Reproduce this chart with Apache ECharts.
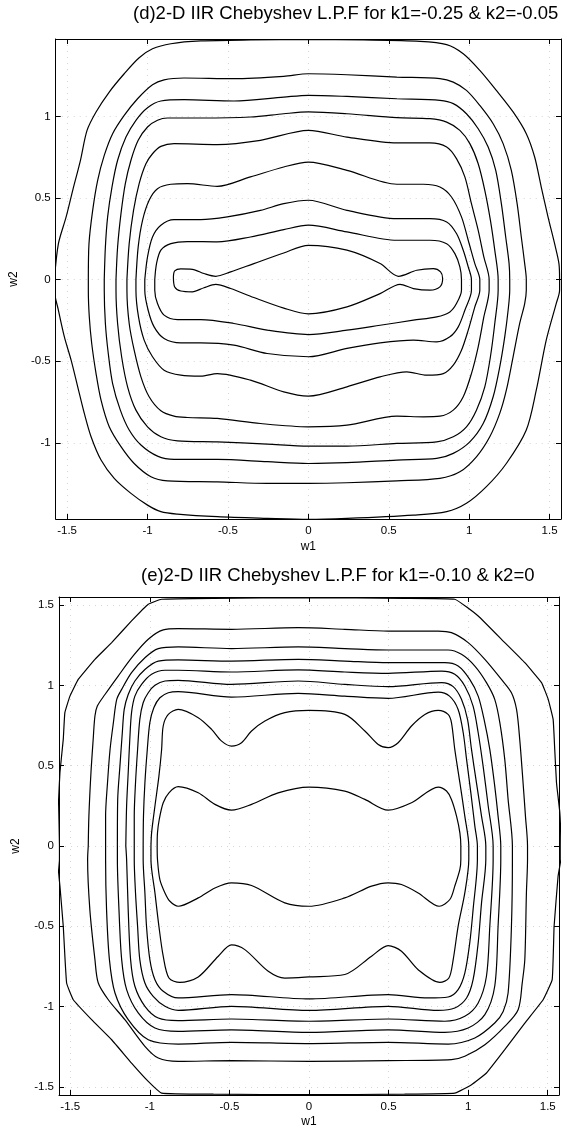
<!DOCTYPE html>
<html>
<head>
<meta charset="utf-8">
<script src="https://cdn.jsdelivr.net/npm/echarts@6/dist/echarts.min.js"></script>
<style>
html,body{margin:0;padding:0;background:#fff}
#chart{width:567px;height:1135px}
</style>
</head>
<body>
<div id="chart"></div>
<script>
// Tick labels
const xTicks = [-1.5, -1, -0.5, 0, 0.5, 1, 1.5];
const yTicksD = [-1, -0.5, 0, 0.5, 1];
const yTicksE = [-1.5, -1, -0.5, 0, 0.5, 1, 1.5];
const titleD = '(d)2-D IIR Chebyshev L.P.F for k1=-0.25 & k2=-0.05';
const titleE = '(e)2-D IIR Chebyshev L.P.F for k1=-0.10 & k2=0';

// Panel (d): contour lines as [w1, w2] loops, outermost first
const dC1 = [[-1.579,0],[-1.554,0.22],[-1.506,0.384],[-1.465,0.547],[-1.417,0.731],[-1.376,0.914],[-1.32,1.027],[-1.238,1.149],[-1.145,1.261],[-1.052,1.359],[-0.969,1.414],[-0.855,1.445],[-0.669,1.462],[-0.36,1.468],[0,1.47],[0.343,1.468],[0.694,1.46],[0.86,1.44],[0.963,1.384],[1.066,1.282],[1.169,1.159],[1.273,1.027],[1.355,0.894],[1.407,0.751],[1.448,0.567],[1.49,0.384],[1.531,0.22],[1.558,0.098],[1.562,0],[1.562,-0.065],[1.541,-0.147],[1.479,-0.371],[1.417,-0.678],[1.355,-0.922],[1.231,-1.127],[1.107,-1.269],[0.983,-1.371],[0.86,-1.422],[0.653,-1.443],[0.24,-1.463],[0,-1.469],[-0.256,-1.463],[-0.566,-1.453],[-0.814,-1.437],[-0.917,-1.422],[-1.0,-1.382],[-1.103,-1.31],[-1.207,-1.218],[-1.289,-1.106],[-1.351,-0.963],[-1.393,-0.82],[-1.434,-0.657],[-1.475,-0.494],[-1.517,-0.351],[-1.554,-0.188],[-1.579,-0.065]];
const dC2 = [[-1.368,0],[-1.364,0.22],[-1.341,0.424],[-1.31,0.608],[-1.269,0.761],[-1.217,0.894],[-1.145,1.006],[-1.062,1.108],[-0.969,1.194],[-0.897,1.224],[-0.773,1.235],[-0.463,1.231],[-0.153,1.245],[0,1.261],[0.24,1.255],[0.55,1.241],[0.818,1.231],[0.901,1.21],[0.983,1.159],[1.066,1.067],[1.149,0.955],[1.211,0.833],[1.262,0.669],[1.298,0.465],[1.324,0.261],[1.345,0.098],[1.355,0],[1.355,-0.065],[1.345,-0.147],[1.314,-0.269],[1.273,-0.473],[1.231,-0.678],[1.19,-0.82],[1.128,-0.963],[1.045,-1.086],[0.942,-1.178],[0.818,-1.218],[0.55,-1.233],[0.24,-1.245],[0,-1.249],[-0.256,-1.249],[-0.566,-1.239],[-0.876,-1.233],[-0.979,-1.208],[-1.083,-1.127],[-1.165,-1.024],[-1.238,-0.902],[-1.289,-0.739],[-1.32,-0.576],[-1.347,-0.392],[-1.362,-0.229],[-1.368,-0.065]];
const dC3 = [[-1.269,0],[-1.262,0.2],[-1.248,0.384],[-1.221,0.567],[-1.186,0.731],[-1.134,0.873],[-1.072,0.976],[-1.0,1.053],[-0.917,1.094],[-0.773,1.102],[-0.463,1.094],[-0.153,1.118],[0,1.129],[0.24,1.122],[0.55,1.108],[0.818,1.098],[0.901,1.078],[0.983,1.016],[1.056,0.924],[1.118,0.812],[1.165,0.669],[1.2,0.465],[1.227,0.261],[1.248,0.098],[1.252,0],[1.252,-0.065],[1.242,-0.188],[1.221,-0.351],[1.19,-0.535],[1.149,-0.718],[1.087,-0.882],[1.004,-0.994],[0.901,-1.065],[0.798,-1.096],[0.55,-1.106],[0.24,-1.122],[0,-1.127],[-0.256,-1.116],[-0.566,-1.102],[-0.835,-1.102],[-0.938,-1.082],[-1.041,-1.014],[-1.114,-0.922],[-1.169,-0.8],[-1.217,-0.637],[-1.244,-0.453],[-1.262,-0.269],[-1.269,-0.065]];
const dC4 = [[-1.196,0],[-1.186,0.2],[-1.165,0.404],[-1.138,0.588],[-1.103,0.731],[-1.058,0.853],[-1.0,0.935],[-0.938,0.976],[-0.876,0.99],[-0.669,0.99],[-0.36,0.996],[-0.153,1.016],[0,1.027],[0.24,1.016],[0.55,0.992],[0.756,0.986],[0.86,0.965],[0.942,0.914],[1.004,0.833],[1.056,0.71],[1.097,0.547],[1.132,0.363],[1.159,0.18],[1.18,0],[1.18,-0.065],[1.159,-0.269],[1.132,-0.473],[1.097,-0.657],[1.045,-0.8],[0.983,-0.902],[0.901,-0.963],[0.798,-0.994],[0.55,-1.004],[0.24,-1.02],[0,-1.02],[-0.256,-1.008],[-0.566,-0.994],[-0.814,-0.988],[-0.917,-0.963],[-1.0,-0.902],[-1.072,-0.8],[-1.124,-0.657],[-1.161,-0.473],[-1.186,-0.269],[-1.196,-0.065]];
const dC5 = [[-1.128,0],[-1.114,0.22],[-1.087,0.424],[-1.052,0.588],[-1.01,0.71],[-0.969,0.771],[-0.917,0.816],[-0.835,0.833],[-0.566,0.827],[-0.298,0.853],[0,0.914],[0.24,0.873],[0.55,0.837],[0.756,0.837],[0.86,0.812],[0.921,0.741],[0.973,0.629],[1.014,0.465],[1.056,0.302],[1.091,0.139],[1.124,0],[1.124,-0.065],[1.091,-0.229],[1.056,-0.412],[1.014,-0.576],[0.963,-0.718],[0.901,-0.8],[0.818,-0.837],[0.715,-0.841],[0.55,-0.837],[0.24,-0.892],[0,-0.902],[-0.298,-0.882],[-0.566,-0.851],[-0.752,-0.845],[-0.835,-0.837],[-0.917,-0.804],[-0.99,-0.718],[-1.041,-0.596],[-1.083,-0.433],[-1.114,-0.269],[-1.128,-0.065]];
const dC6 = [[-1.072,0],[-1.058,0.2],[-1.031,0.363],[-0.99,0.486],[-0.938,0.557],[-0.855,0.584],[-0.752,0.588],[-0.566,0.571],[-0.36,0.629],[-0.153,0.69],[0,0.72],[0.24,0.669],[0.55,0.584],[0.715,0.584],[0.818,0.567],[0.89,0.506],[0.952,0.384],[0.994,0.241],[1.035,0.098],[1.066,0],[1.066,-0.065],[1.035,-0.167],[0.994,-0.31],[0.952,-0.433],[0.901,-0.524],[0.839,-0.576],[0.736,-0.586],[0.612,-0.565],[0.446,-0.596],[0.24,-0.657],[0,-0.714],[-0.153,-0.688],[-0.36,-0.616],[-0.566,-0.576],[-0.669,-0.592],[-0.793,-0.586],[-0.897,-0.555],[-0.969,-0.473],[-1.021,-0.371],[-1.056,-0.229],[-1.072,-0.065]];
const dC7 = [[-1.017,0],[-1.0,0.139],[-0.969,0.261],[-0.917,0.333],[-0.835,0.367],[-0.669,0.367],[-0.504,0.384],[-0.298,0.424],[-0.153,0.465],[0,0.486],[0.24,0.424],[0.55,0.373],[0.756,0.373],[0.86,0.353],[0.921,0.282],[0.963,0.18],[0.994,0.078],[1.014,0],[1.014,-0.065],[0.973,-0.188],[0.932,-0.29],[0.88,-0.351],[0.798,-0.382],[0.653,-0.371],[0.446,-0.388],[0.24,-0.422],[0,-0.473],[-0.256,-0.453],[-0.463,-0.402],[-0.669,-0.388],[-0.793,-0.388],[-0.897,-0.361],[-0.959,-0.29],[-0.996,-0.188],[-1.017,-0.065]];
const dC8 = [[-0.955,0],[-0.944,0.098],[-0.917,0.18],[-0.855,0.22],[-0.752,0.233],[-0.566,0.231],[-0.36,0.261],[-0.153,0.306],[0,0.333],[0.24,0.292],[0.55,0.241],[0.756,0.241],[0.86,0.22],[0.911,0.159],[0.942,0.078],[0.952,0],[0.952,-0.065],[0.921,-0.147],[0.88,-0.198],[0.798,-0.229],[0.653,-0.249],[0.446,-0.28],[0.24,-0.31],[0,-0.337],[-0.256,-0.31],[-0.463,-0.269],[-0.669,-0.245],[-0.814,-0.245],[-0.897,-0.218],[-0.938,-0.147],[-0.955,-0.065]];
const dC9 = [[-0.839,0.016],[-0.831,0.053],[-0.793,0.065],[-0.721,0.063],[-0.649,0.037],[-0.576,0.02],[-0.483,0.047],[-0.339,0.098],[-0.153,0.163],[0,0.21],[0.24,0.18],[0.446,0.098],[0.56,0.02],[0.674,0.057],[0.777,0.067],[0.822,0.047],[0.835,0.006],[0.818,-0.045],[0.756,-0.065],[0.653,-0.055],[0.57,-0.029],[0.446,-0.086],[0.24,-0.167],[0,-0.21],[-0.153,-0.175],[-0.339,-0.11],[-0.483,-0.055],[-0.576,-0.03],[-0.649,-0.05],[-0.721,-0.075],[-0.793,-0.07],[-0.831,-0.045]];

// Panel (e): contour lines as [w1, w2] loops, outermost first
const eC1 = [[-1.58,0],[-1.575,0.249],[-1.565,0.456],[-1.544,0.664],[-1.534,0.83],[-1.502,0.933],[-1.45,1.037],[-1.345,1.162],[-1.24,1.266],[-1.115,1.401],[-1.01,1.505],[-0.926,1.536],[-0.6,1.542],[0,1.545],[0.6,1.542],[0.916,1.536],[1.063,1.432],[1.23,1.266],[1.356,1.141],[1.461,1.017],[1.503,0.913],[1.534,0.788],[1.544,0.601],[1.555,0.394],[1.576,0.207],[1.582,0],[1.582,-0.084],[1.565,-0.188],[1.54,-0.5],[1.528,-0.832],[1.471,-0.957],[1.356,-1.102],[1.23,-1.268],[1.115,-1.413],[1.021,-1.486],[0.916,-1.538],[0.6,-1.545],[0,-1.548],[-0.6,-1.545],[-0.926,-1.538],[-1.01,-1.465],[-1.115,-1.351],[-1.24,-1.206],[-1.366,-1.081],[-1.481,-0.957],[-1.523,-0.853],[-1.544,-0.5],[-1.565,-0.25],[-1.58,-0.084]];
const eC2 = [[-1.387,0],[-1.383,0.186],[-1.37,0.456],[-1.356,0.664],[-1.345,0.809],[-1.33,0.871],[-1.282,0.943],[-1.199,1.058],[-1.105,1.183],[-1.01,1.287],[-0.916,1.345],[-0.822,1.353],[-0.487,1.349],[-0.068,1.359],[0.225,1.349],[0.497,1.338],[0.812,1.338],[0.895,1.328],[1.0,1.266],[1.105,1.162],[1.209,1.037],[1.272,0.954],[1.304,0.85],[1.324,0.664],[1.345,0.394],[1.36,0.186],[1.373,0],[1.373,-0.084],[1.366,-0.292],[1.356,-0.707],[1.34,-0.85],[1.314,-1.019],[1.23,-1.123],[1.105,-1.237],[0.979,-1.309],[0.895,-1.33],[0.497,-1.336],[0,-1.341],[-0.487,-1.336],[-0.822,-1.341],[-0.947,-1.32],[-1.031,-1.247],[-1.157,-1.081],[-1.261,-0.957],[-1.324,-0.853],[-1.345,-0.707],[-1.377,-0.396],[-1.391,-0.084]];
const eC3 = [[-1.278,0],[-1.278,0.186],[-1.266,0.394],[-1.25,0.601],[-1.229,0.768],[-1.208,0.913],[-1.177,0.975],[-1.115,1.079],[-1.031,1.172],[-0.947,1.229],[-0.822,1.239],[-0.487,1.229],[-0.068,1.239],[0.225,1.229],[0.497,1.22],[0.874,1.22],[0.958,1.193],[1.042,1.12],[1.115,1.017],[1.167,0.913],[1.199,0.768],[1.23,0.539],[1.251,0.29],[1.278,0],[1.278,-0.084],[1.272,-0.5],[1.251,-0.915],[1.22,-1.03],[1.167,-1.102],[1.042,-1.195],[0.874,-1.233],[0.497,-1.222],[0,-1.23],[-0.487,-1.222],[-0.822,-1.233],[-1.01,-1.206],[-1.136,-1.081],[-1.219,-0.915],[-1.254,-0.707],[-1.272,-0.396],[-1.278,-0.084]];
const eC4 = [[-1.204,0],[-1.202,0.29],[-1.188,0.497],[-1.173,0.705],[-1.161,0.85],[-1.136,0.943],[-1.094,1.027],[-1.031,1.099],[-0.947,1.151],[-0.822,1.158],[-0.487,1.151],[-0.068,1.162],[0.225,1.151],[0.497,1.141],[0.853,1.141],[0.937,1.12],[1.01,1.037],[1.063,0.933],[1.1,0.788],[1.136,0.601],[1.167,0.373],[1.188,0.186],[1.205,0],[1.205,-0.084],[1.188,-0.5],[1.167,-0.873],[1.105,-1.05],[1.0,-1.133],[0.853,-1.16],[0.497,-1.144],[0,-1.16],[-0.487,-1.144],[-0.822,-1.154],[-0.968,-1.133],[-1.073,-1.039],[-1.146,-0.894],[-1.177,-0.707],[-1.194,-0.396],[-1.204,-0.084]];
const eC5 = [[-1.151,0],[-1.146,0.249],[-1.136,0.456],[-1.126,0.664],[-1.115,0.83],[-1.094,0.933],[-1.052,1.006],[-0.989,1.069],[-0.905,1.094],[-0.822,1.094],[-0.487,1.083],[-0.068,1.096],[0.225,1.083],[0.497,1.075],[0.833,1.089],[0.916,1.069],[0.979,0.996],[1.031,0.871],[1.063,0.705],[1.094,0.497],[1.126,0.249],[1.157,0],[1.157,-0.084],[1.136,-0.5],[1.115,-0.811],[1.063,-0.977],[0.979,-1.06],[0.853,-1.091],[0.497,-1.077],[0,-1.091],[-0.487,-1.077],[-0.822,-1.087],[-0.947,-1.071],[-1.031,-0.998],[-1.094,-0.873],[-1.121,-0.707],[-1.136,-0.396],[-1.146,-0.084]];
const eC6 = [[-1.098,0],[-1.098,0.186],[-1.09,0.394],[-1.077,0.601],[-1.063,0.788],[-1.042,0.892],[-1.01,0.954],[-0.968,1.0],[-0.905,1.027],[-0.822,1.031],[-0.487,1.006],[-0.068,1.027],[0.225,1.006],[0.497,0.992],[0.833,1.017],[0.906,0.992],[0.958,0.913],[0.996,0.788],[1.021,0.601],[1.052,0.394],[1.084,0.186],[1.111,0],[1.111,-0.084],[1.084,-0.354],[1.063,-0.603],[1.031,-0.832],[0.99,-0.946],[0.916,-1.008],[0.812,-1.023],[0.497,-0.998],[0,-1.023],[-0.487,-0.998],[-0.822,-1.023],[-0.905,-0.998],[-0.979,-0.936],[-1.031,-0.853],[-1.063,-0.707],[-1.077,-0.5],[-1.09,-0.292],[-1.098,-0.084]];
const eC7 = [[-1.042,0],[-1.04,0.186],[-1.031,0.394],[-1.016,0.601],[-1.0,0.768],[-0.975,0.861],[-0.937,0.923],[-0.884,0.954],[-0.822,0.961],[-0.487,0.927],[-0.068,0.95],[0.225,0.933],[0.497,0.919],[0.812,0.958],[0.883,0.933],[0.937,0.85],[0.969,0.705],[0.99,0.539],[1.017,0.331],[1.042,0.124],[1.058,0],[1.058,-0.084],[1.031,-0.396],[1.01,-0.603],[0.979,-0.791],[0.937,-0.894],[0.874,-0.94],[0.749,-0.946],[0.497,-0.925],[0,-0.952],[-0.487,-0.925],[-0.822,-0.946],[-0.916,-0.904],[-0.968,-0.832],[-1.0,-0.707],[-1.021,-0.5],[-1.031,-0.292],[-1.042,-0.084]];
const eC8 = [[-0.993,0],[-0.989,0.082],[-0.968,0.249],[-0.943,0.435],[-0.926,0.601],[-0.916,0.747],[-0.884,0.819],[-0.822,0.85],[-0.696,0.799],[-0.612,0.726],[-0.549,0.653],[-0.487,0.622],[-0.424,0.643],[-0.361,0.716],[-0.277,0.778],[-0.152,0.83],[0,0.844],[0.225,0.819],[0.351,0.716],[0.435,0.632],[0.497,0.612],[0.56,0.643],[0.644,0.747],[0.728,0.819],[0.812,0.844],[0.874,0.819],[0.895,0.768],[0.916,0.601],[0.948,0.394],[0.979,0.186],[1.004,0],[1.004,-0.084],[0.979,-0.292],[0.937,-0.5],[0.906,-0.707],[0.879,-0.822],[0.822,-0.849],[0.686,-0.77],[0.581,-0.655],[0.497,-0.62],[0.393,-0.686],[0.225,-0.8],[0,-0.815],[-0.152,-0.822],[-0.256,-0.78],[-0.403,-0.645],[-0.487,-0.616],[-0.57,-0.686],[-0.696,-0.815],[-0.811,-0.849],[-0.88,-0.822],[-0.916,-0.686],[-0.943,-0.5],[-0.968,-0.292],[-0.993,-0.084]];
const eC9 = [[-0.954,0],[-0.952,0.082],[-0.941,0.165],[-0.916,0.269],[-0.88,0.331],[-0.822,0.369],[-0.696,0.331],[-0.591,0.259],[-0.487,0.223],[-0.361,0.259],[-0.194,0.331],[0,0.367],[0.225,0.342],[0.351,0.29],[0.497,0.223],[0.644,0.269],[0.812,0.367],[0.864,0.342],[0.895,0.29],[0.927,0.186],[0.948,0.082],[0.954,0],[0.954,-0.084],[0.948,-0.146],[0.916,-0.25],[0.885,-0.333],[0.818,-0.375],[0.686,-0.292],[0.581,-0.24],[0.497,-0.229],[0.393,-0.25],[0.225,-0.323],[0,-0.375],[-0.152,-0.354],[-0.361,-0.246],[-0.487,-0.229],[-0.591,-0.261],[-0.696,-0.323],[-0.822,-0.375],[-0.874,-0.344],[-0.905,-0.292],[-0.937,-0.209],[-0.952,-0.084]];

const contoursD = [dC1, dC2, dC3, dC4, dC5, dC6, dC7, dC8, dC9];
const contoursE = [eC1, eC2, eC3, eC4, eC5, eC6, eC7, eC8, eC9];

const FONT = '"Liberation Sans", Arial, Helvetica, sans-serif';
const HALF_PI = Math.PI / 2;

function fmt(v) { return String(v); }

// Boxed MATLAB-style axes: ticks pointing inwards on all four sides
function xAxes(gridIndex, ticks, nameGap) {
  const base = {
    gridIndex, type: 'value', min: -HALF_PI, max: HALF_PI,
    axisLine: { show: true, onZero: false, lineStyle: { color: '#000', width: 1 } },
    axisTick: { show: true, inside: true, length: 5, customValues: ticks, lineStyle: { color: '#000', width: 1 } }
  };
  return [
    Object.assign({}, base, {
      position: 'bottom', name: 'w1', nameLocation: 'middle', nameGap: nameGap,
      nameTextStyle: { fontFamily: FONT, fontSize: 12, color: '#000' },
      axisLabel: { show: true, customValues: ticks, formatter: fmt, fontFamily: FONT, fontSize: 11.5, color: '#000', margin: 6 },
      splitLine: { show: true, lineStyle: { color: '#d6d6d6', width: 1, type: [1, 5] } }
    }),
    Object.assign({}, base, {
      position: 'top', axisLabel: { show: false }, splitLine: { show: false }
    })
  ];
}

function yAxes(gridIndex, lo, hi, ticks, nameGap) {
  const base = {
    gridIndex, type: 'value', min: lo, max: hi,
    axisLine: { show: true, onZero: false, lineStyle: { color: '#000', width: 1 } },
    axisTick: { show: true, inside: true, length: 5, customValues: ticks, lineStyle: { color: '#000', width: 1 } }
  };
  return [
    Object.assign({}, base, {
      position: 'left', name: 'w2', nameLocation: 'middle', nameGap: nameGap,
      nameTextStyle: { fontFamily: FONT, fontSize: 12, color: '#000' },
      axisLabel: { show: true, customValues: ticks, formatter: fmt, fontFamily: FONT, fontSize: 11.5, color: '#000', margin: 5 },
      splitLine: { show: true, lineStyle: { color: '#d6d6d6', width: 1, type: [1, 5] } }
    }),
    Object.assign({}, base, {
      position: 'right', axisLabel: { show: false }, splitLine: { show: false }
    })
  ];
}

function contourSeries(loop, xi, yi, smooth) {
  return {
    type: 'line', xAxisIndex: xi, yAxisIndex: yi,
    data: loop.concat([loop[0]]),
    showSymbol: false, symbol: 'none', smooth: smooth, clip: true, silent: true,
    lineStyle: { color: '#000', width: 1.2 }
  };
}

const series = [];
contoursD.forEach((c) => series.push(contourSeries(c, 0, 0, 0.3)));
contoursE.forEach((c, i) => series.push(contourSeries(c, 2, 2, i === 0 ? 0.1 : 0.3)));

const chart = echarts.init(document.getElementById('chart'), null, { renderer: 'canvas' });
chart.setOption({
  animation: false,
  backgroundColor: '#fff',
  title: [
    { text: titleD, left: 133, top: 4, padding: 0, textStyle: { fontFamily: FONT, fontSize: 18.5, fontWeight: 'normal', color: '#000' } },
    { text: titleE, left: 141, top: 566, padding: 0, textStyle: { fontFamily: FONT, fontSize: 18.5, fontWeight: 'normal', color: '#000' } }
  ],
  grid: [
    { left: 54, right: 6, top: 39, height: 480 },
    { left: 59, right: 8, top: 597, height: 498 }
  ],
  xAxis: xAxes(0, xTicks, 22).concat(xAxes(1, xTicks, 21)),
  yAxis: yAxes(0, -1.467, 1.474, yTicksD, 35).concat(yAxes(1, -1.55, 1.55, yTicksE, 37)),
  series: series
});
</script>
</body>
</html>
